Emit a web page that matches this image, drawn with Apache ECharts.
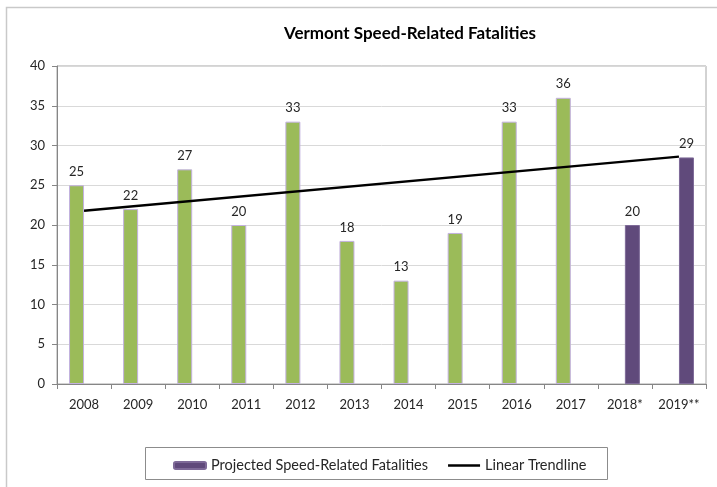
<!DOCTYPE html>
<html>
<head>
<meta charset="utf-8">
<script src="https://cdn.jsdelivr.net/npm/echarts@6/dist/echarts.min.js"></script>
<style>
  html, body { margin: 0; padding: 0; background: #fff; }
  #chart { width: 717px; height: 487px; }
</style>
</head>
<body>
<div id="chart"></div>
<script>
// values
var years = ['2008', '2009', '2010', '2011', '2012', '2013', '2014', '2015', '2016', '2017', '2018*', '2019**'];
var actual = [25, 22, 27, 20, 33, 18, 13, 19, 33, 36, null, null];
var projected = [null, null, null, null, null, null, null, null, null, null, 20, 28.5];
// trendline only known at its two ends
var trend = [21.8, null, null, null, null, null, null, null, null, null, null, 28.6];

var font = 'Lato';
var chart = echarts.init(document.getElementById('chart'));

chart.setOption({
  animation: false,
  textStyle: { fontFamily: font },
  title: {
    text: 'Vermont Speed-Related Fatalities',
    left: 405,
    top: 20,
    textAlign: 'center',
    textStyle: { fontSize: 17, fontWeight: 'bold', color: '#000', fontFamily: font }
  },
  graphic: [
    { type: 'polyline', shape: { points: [[6.5, 487], [6.5, 7.5], [717, 7.5]] },
      style: { stroke: '#c9c9c9', lineWidth: 1.5, fill: null } },
    { type: 'rect', shape: { x: 145.5, y: 447.5, width: 462, height: 32 },
      style: { stroke: '#8c8c8c', lineWidth: 1, fill: '#fff' }, z: 0 }
  ],
  legend: {
    data: [
      { name: 'Projected Speed-Related Fatalities' },
      { name: 'Linear Trendline', icon: 'path://M0,0H34V2.5H0Z' }
    ],
    left: 168,
    top: 453,
    itemWidth: 32,
    itemHeight: 7,
    itemGap: 20,
    z: 10,
    textStyle: { fontSize: 14.5, color: '#262626', fontFamily: font }
  },
  grid: {
    left: 57, right: 11, top: 66, bottom: 103,
    show: true, borderColor: '#a6a6a6', borderWidth: 1
  },
  xAxis: {
    type: 'category',
    data: years,
    axisLine: { lineStyle: { color: '#868686' } },
    axisTick: { show: true, interval: 0, length: 5, lineStyle: { color: '#868686' } },
    axisLabel: { fontSize: 13, color: '#262626', margin: 14, interval: 0 }
  },
  yAxis: {
    type: 'value',
    min: 0, max: 40, interval: 5,
    axisLine: { show: true, lineStyle: { color: '#868686' } },
    axisTick: { show: true, length: 5, lineStyle: { color: '#868686' } },
    axisLabel: { fontSize: 13, color: '#262626', margin: 12 },
    splitLine: { lineStyle: { color: '#d9d9d9' } }
  },
  series: [
    {
      name: 'Speed-Related Fatalities',
      type: 'bar',
      data: actual,
      barWidth: 15,
      barGap: '0%',
      itemStyle: { color: '#9bbb59', borderColor: '#c3b1e0', borderWidth: 1 },
      label: { show: true, position: 'top', distance: 7, fontSize: 13, color: '#262626' }
    },
    {
      name: 'Projected Speed-Related Fatalities',
      type: 'bar',
      data: projected,
      barWidth: 15,
      barGap: '0%',
      itemStyle: { color: '#604a7b', borderColor: '#7e6a98', borderWidth: 1 },
      label: {
        show: true, position: 'top', distance: 7, fontSize: 13, color: '#262626',
        formatter: function (p) { return Math.round(p.value); }
      }
    },
    {
      name: 'Linear Trendline',
      type: 'line',
      data: trend,
      connectNulls: true,
      symbol: 'none',
      lineStyle: { color: '#000', width: 2.5 },
      itemStyle: { color: '#000' },
      z: 5
    }
  ]
});
</script>
</body>
</html>
